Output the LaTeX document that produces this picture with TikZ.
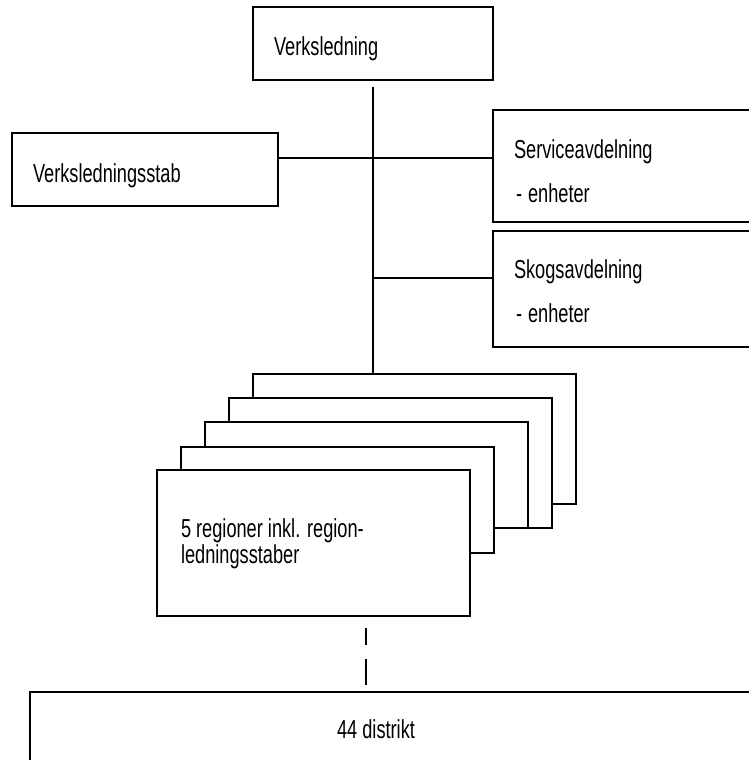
\documentclass[tikz,border=0pt]{standalone}
\usepackage{fontspec}
\setmainfont{Liberation Sans}[FakeStretch=0.70]
\begin{document}
\begin{tikzpicture}[x=1pt,y=-1pt,
  box/.style={draw=black, fill=white, line width=2pt, rectangle, inner sep=0pt, outer sep=0pt},
  lbl/.style={anchor=base west, inner sep=0pt, outer sep=0pt, font=\fontsize{26}{30}\selectfont},
  conn/.style={draw=black, line width=2pt}]
\useasboundingbox (0,0) rectangle (749,760);
\clip (0,0) rectangle (749,760);
% top box
\node[box, minimum width=240pt, minimum height=73pt] (vl) at (373,43.5) {};
\node[lbl] (tvl) at (274,56) {Verksledning};
% staff box
\node[box, minimum width=266pt, minimum height=73pt] (stab) at (145,169.5) {};
\node[lbl] (tstab) at (33,182) {Verksledningsstab};
% service box
\node[box, minimum width=320pt, minimum height=112pt] (svc) at (653,166) {};
\node[lbl] (tsvc1) at (514,158) {Serviceavdelning};
\node[lbl] (tsvc2) at (516,202) {-\hspace{6pt}enheter};
% forest box
\node[box, minimum width=320pt, minimum height=116pt] (skog) at (653,289) {};
\node[lbl] (tskog1) at (514,278) {Skogsavdelning};
\node[lbl] (tskog2) at (516,322) {-\hspace{6pt}enheter};
% stacked region boxes
\node[box, minimum width=323pt, minimum height=130pt] (r1) at (414.5,439) {};
\node[box, minimum width=323pt, minimum height=130pt] (r2) at (390.5,463) {};
\node[box, minimum width=323pt, minimum height=106pt] (r3) at (366.5,475) {};
\node[box, minimum width=313pt, minimum height=106pt] (r4) at (337.5,500) {};
\node[box, minimum width=313pt, minimum height=146pt] (r5) at (313.5,543) {};
\node[lbl] (tr1) at (181,537) {5 regioner inkl. region-};
\node[lbl] (tr2) at (181,563) {ledningsstaber};
% district box
\node[box, minimum width=770pt, minimum height=108pt] (dist) at (415,746) {};
\node[lbl, anchor=base] (tdist) at (376,738) {44 distrikt};
% connectors
\coordinate (trunk) at (373,87);
\draw[conn] (trunk) -- (trunk |- r1.north);
\draw[conn] (stab.east |- 0,158) -- (svc.west |- 0,158);
\draw[conn] (373,278) -- (skog.west |- 0,278);
\coordinate (dtop) at (366,628);
\draw[conn, dash pattern=on 17pt off 14pt on 26pt off 200pt] (dtop) -- (dtop |- 0,685);
\end{tikzpicture}
\end{document}
